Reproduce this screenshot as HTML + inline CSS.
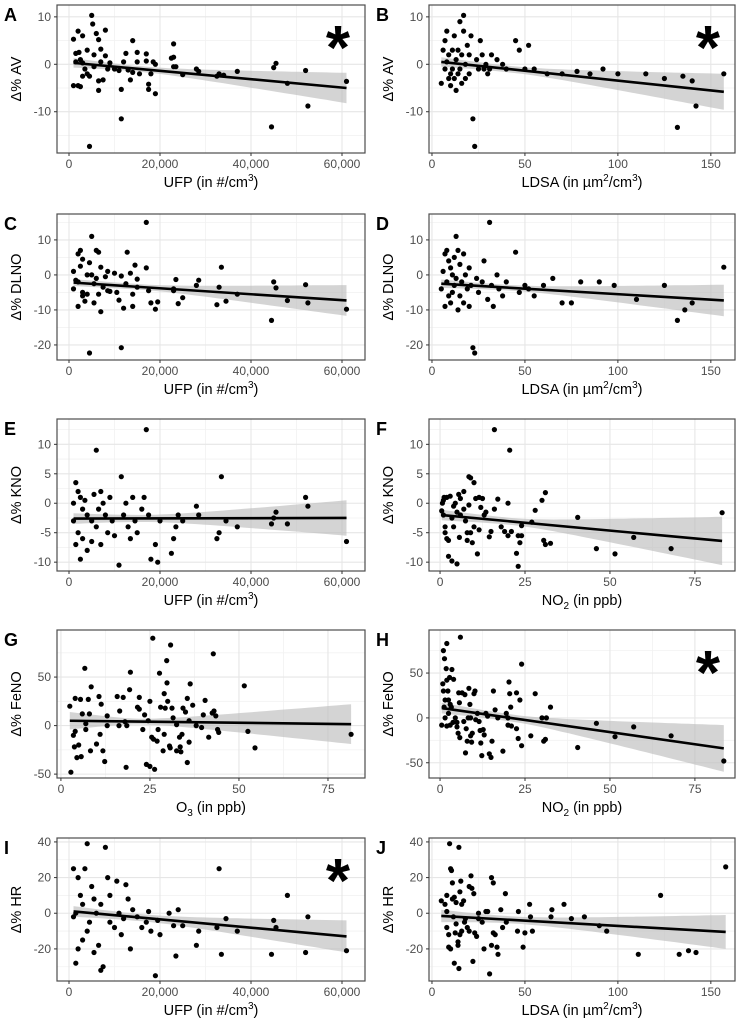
<!DOCTYPE html>
<html><head><meta charset="utf-8">
<style>
html,body{margin:0;padding:0;background:#fff;}
svg{display:block;font-family:"Liberation Sans",Arial,sans-serif;}
</style></head>
<body>
<svg id="fig" width="744" height="1036" viewBox="0 0 744 1036" xmlns="http://www.w3.org/2000/svg"></svg>
<script>
// ---- data arrays ----
const ufpTicks=[0,20000,40000,60000];
const ufpTickLabels=["0","20,000","40,000","60,000"];
const ldsaTicks=[0,50,100,150];
const ppbTicks=[0,25,50,75];

const ptsA=[[1000,5.3],[1500,2.3],[2000,7],[2200,2.5],[3000,6],[3000,0.3],[1000,-4.5],[2000,-4.5],[2500,-4.7],[4000,3],[4000,-2],[4500,-17.3],[4500,-2.5],[5000,10.3],[5200,8.5],[5500,2],[6000,6.5],[6500,5.2],[7000,3.2],[6500,-3.5],[6500,-5.5],[7000,0.5],[7500,-3.3],[8000,7.2],[8000,1.8],[8500,-1],[9000,0.3],[10000,-1],[11000,-1.3],[11500,-5.3],[11500,-11.5],[12000,0.5],[12500,2.3],[13000,-1.2],[13500,-3.3],[14000,5],[14000,-1.7],[15000,2.5],[15000,0.5],[15500,-2],[17000,2.2],[17000,0.7],[17500,-4.2],[17500,-5.3],[18000,-2],[18500,0.5],[19000,0],[19000,-6.2],[22500,1.3],[23000,4.3],[23000,1.5],[23000,-0.5],[23500,-0.5],[25000,-2.2],[28000,-1],[28500,-1.5],[32500,-2.5],[33000,-2],[34000,-2.3],[37000,-1.5],[44500,-13.2],[45000,-0.7],[45500,0.2],[48000,-4],[52000,-1.3],[52500,-8.8],[61000,-3.6],[1500,0.5],[3500,-1],[2500,1],[5500,-0.5],[3000,-2.5]];
const ptsB=[[5,-4],[6,3],[7,5],[7,-1],[8,7],[8,0.5],[9,2],[9,-3],[10,-2],[10,-4.5],[11,3],[11,-1],[12,6],[12,-3],[13,1],[13,-5.5],[14,3],[14,-2],[15,-1],[15,9],[16,2],[16,-4],[17,10.3],[17,7],[18,0],[18,-3],[19,4],[20,2],[20,-2],[21,6],[22,-11.5],[23,-17.3],[24,1],[25,-1],[26,5],[27,2],[28,-1],[29,0],[30,-2],[31,-1],[32,2],[35,1],[38,0],[40,-1],[45,5],[47,3],[50,-1],[52,4],[55,-1],[62,-2],[70,-2],[78,-1.5],[85,-2],[92,-1],[100,-2],[115,-2],[125,-3],[132,-13.3],[135,-2.5],[140,-3.5],[142,-8.8],[157,-2]];
const ptsC=[[1000,1],[1000,-4],[1500,-1.5],[2000,6],[2000,-9],[2500,7],[2500,2.5],[3000,4.5],[3000,-5],[3500,-7.5],[4000,0],[4000,-5.5],[4500,-22.3],[4500,3.5],[5000,11],[5000,0],[5500,-8],[6000,7],[6000,-1],[6500,6.5],[6500,-5.5],[7000,2.2],[7000,-10.5],[7500,-3.5],[8000,-0.5],[8500,1],[8500,-4.5],[9000,-4.7],[10000,0.5],[10500,-5],[11000,-7.2],[11500,-20.8],[11500,-0.3],[12000,-9.5],[12500,-2.5],[12800,6.5],[13500,0.5],[14000,-9],[14000,-5.5],[14500,2.8],[15000,-1.2],[15000,-3.5],[17000,15],[17000,2],[17500,-4.5],[18000,-8],[19000,-9.8],[19500,-7.7],[23000,-4],[23000,-4.5],[23500,-1.3],[24000,-8.2],[25000,-6.5],[28000,-3],[28500,-1.5],[32500,-8.5],[33000,-3.5],[33500,2.2],[34500,-7.5],[37000,-5.5],[44500,-13],[45000,-2],[45500,-3.7],[48000,-7.3],[52000,-2.8],[52500,-8],[61000,-9.8],[2000,-2],[3000,-6],[5500,-2.5]];
const ptsD=[[5,-4],[6,1],[7,6],[7,-9],[8,7],[8,-2],[9,4],[9,-6],[10,2],[10,-8],[11,0],[11,-5],[12,5],[12,-3],[13,11],[13,-1],[14,7],[14,-10],[15,3],[15,-6],[16,-2],[17,6],[17,-8],[18,0],[19,-4],[20,2],[20,-9],[21,-3],[22,-20.8],[23,-22.3],[24,-1],[25,-5],[27,-2],[28,4],[30,-7],[31,15],[32,-3],[33,-9],[35,0],[36,-4],[38,-6],[40,-2],[45,6.5],[47,-5],[50,-3],[52,-4],[55,-6],[60,-3],[65,-1],[70,-8],[75,-8],[80,-2],[90,-2],[98,-3],[110,-7],[125,-3],[132,-13],[136,-10],[140,-8],[157,2.2]];
const ptsE=[[1000,0],[1000,-3],[1500,3.5],[1500,-7],[2000,2],[2000,-5],[2500,1],[2500,-9.5],[3000,-1],[3000,-6],[3500,0.5],[4000,-2],[4000,-8],[5000,-3],[5000,-6.5],[5500,1.5],[6000,9],[6000,-4],[6500,-1],[7000,2],[7000,-7],[7500,0],[8000,-2],[8500,-5],[9000,1],[9500,-3],[10000,-5.5],[11000,-10.5],[11500,4.5],[12000,-2],[12500,0],[13000,-4],[13500,-6],[14000,1],[14500,-3],[15000,-5],[16000,-1],[16500,1],[17000,12.5],[17500,-2],[18000,-9.5],[19000,-7],[19500,-10],[20000,-3],[22500,-8.5],[23000,-6],[23500,-4],[24000,-2],[25000,-3],[28000,-0.5],[28500,-2],[32500,-6],[33000,-5],[33500,4.5],[34500,-3],[37000,-4],[44500,-3.5],[45000,-2.5],[45500,-1.5],[48000,-3.5],[52000,1],[52500,-0.5],[61000,-6.5]];
const ptsF=[[0.5,-1.3],[0.7,0],[1,0.5],[1,-2],[1.2,1],[1.5,-4],[1.5,-5],[2,-6],[2,1],[2.5,-6.3],[2.5,-9],[3,1.2],[3.5,-9.8],[3.5,-2.5],[4,-0.5],[4,-4],[4.5,0],[5,-10.3],[5,-1.5],[5.5,1.5],[5.7,-5.8],[6,0.8],[6,-2],[7,2],[7,-1],[7.5,-3],[8,-6.3],[8,-5],[8.5,4.5],[8.5,-0.3],[9,4.3],[9,-5],[9.5,-6.7],[10,3.5],[10,-4],[10.5,0.8],[11,-8.6],[11.5,1],[11.5,-4.5],[12,-0.7],[12.5,0.8],[13,-2],[13.5,-1.5],[14.5,-5.7],[15,-4.8],[16,12.5],[16,-1],[17,0.7],[18,-4],[19,-4.8],[20,0],[20,-5.5],[20.5,9],[21,-4.8],[22.5,-8.5],[23,-10.7],[23,-5.5],[23.5,-6.7],[24,-3.8],[24,-5.5],[27,-3.2],[28,-1.2],[30,0.5],[30.5,-6.3],[31,1.8],[31,-7],[32.5,-6.8],[40.5,-2.4],[46,-7.7],[51.5,-8.6],[57,-5.8],[68,-7.7],[83,-1.6]];
const ptsG=[[2.5,20],[2.8,-48],[3.5,-10],[3.8,-22],[4,28],[4,-6],[4.5,-33],[5,-20],[5.5,27],[5.7,-32],[6,12],[6.7,59],[7,-4],[7,2],[7.7,27],[8,12],[8.3,-26],[8.5,40],[10,-19],[10.7,30],[11,-9],[11.3,22],[11.8,-26],[12.3,-37],[13,10],[13,0],[15.8,30],[16.3,0],[16.5,15],[17.5,29],[18,4],[18.3,-43],[18.5,0],[19.3,37],[19.5,55],[21.5,19],[22,17],[22,29],[23,-4],[23.5,11],[24,-40],[24.5,5],[25,-42],[25,25],[25.5,-12],[25.8,90],[26,-14],[26.3,-45],[27,-16],[27.3,-4],[27.7,54],[28,19],[28.7,-26],[29,-9],[29,33],[29.3,18],[29.7,67],[29.8,44],[30,25],[30.5,-21],[30.7,-23],[30.8,83],[31.2,18],[31.5,8],[32.5,-26],[32.5,1],[33.3,-12],[33.5,-22],[33.7,-27],[34,-9],[34.3,18],[35,14],[35.5,28],[35.5,-38],[36,5],[36,-17],[36.3,43],[37,21],[38,0],[39.5,-2],[40,11],[40.5,26],[41.5,-12],[42.5,13],[42.8,74],[43,15],[43.5,10],[44,-4],[44.3,-7],[51.5,41],[52.5,-6],[54.5,-23],[81.5,-9]];
const ptsH=[[0.5,-8],[0.8,38],[1,75],[1,30],[1.2,12],[1.3,66],[1.5,0],[1.5,20],[1.8,55],[2,83],[2,42],[2,-9],[2.3,30],[2.5,20],[2.5,5],[2.8,45],[3,15],[3,-8],[3.3,12],[3.5,54],[3.8,-5],[4,43],[4.5,0],[5,-5],[5,-10],[5.3,-17],[5.5,28],[5.7,17],[5.8,-22],[6,90],[6.5,28],[7,-4],[7.3,26],[7.5,-39],[7.7,-12],[8,-26],[8.3,0],[8.5,33],[8.8,15],[9,-20],[9,0],[9.3,-27],[9.5,-17],[10,27],[10.3,30],[10.5,-2],[11,5],[11.5,-4],[11.8,-14],[12,-28],[12.3,-42],[12.7,-13],[13,-19],[13.5,5],[14,2],[14.5,-40],[15,-44],[15.3,-26],[15.7,30],[16.2,9],[17,0],[18.5,-37],[19.5,5],[20,0],[20,-8],[20.3,40],[20.5,27],[20.8,12],[21,-9],[22.5,28],[22.5,-12],[23,-23],[23.5,20],[24,60],[24,-31],[26.7,-20],[28,27],[30,0],[30.5,-26],[31,-24],[31.3,0],[32.5,12],[40.5,-33],[46,-6],[51.5,-21],[57,-10],[68,-20],[83.5,-48]];
const ptsI=[[1000,25],[1000,-2],[1500,0],[1500,-28],[2000,20],[2000,-20],[2500,10],[3000,5],[3000,-15],[3500,25],[4000,39],[4000,-10],[4500,-5],[5000,15],[5500,8],[5500,-22],[6000,0],[6500,-18],[7000,-32],[7000,5],[7500,-30],[8000,37],[8500,20],[9000,10],[9000,-5],[10000,-8],[10500,18],[11000,0],[11500,-12],[12000,-3],[12500,16],[13000,8],[13500,-20],[14000,2],[15000,-2],[16000,-8],[17000,-5],[17500,1],[18000,-10],[19000,-35],[19500,-4],[20000,-12],[22000,0],[23000,-7],[23500,-24],[24000,2],[25000,-7],[28000,-18],[28500,-10],[32500,-8],[33000,25],[33500,-23],[34500,-3],[37000,-10],[44500,-23],[45000,-4],[45500,-8],[48000,10],[52000,-22],[52500,-2],[61000,-21]];
const ptsJ=[[5,7],[7,5],[8,10],[8,1],[8,-8],[9,-19],[9,-12],[9.5,39],[10,25],[10.5,24],[10,-20],[11,17],[11,8],[11.5,-2],[12,9],[12,-28],[12.5,-11],[13,6],[13,-6],[14,-16],[14,-18],[14.5,37],[14.5,-31],[15,12],[15,-12],[15.5,18],[16,5],[16,-10],[17,7],[17.5,-5],[18,-3],[19,-8],[20,15],[20,-10],[21,21],[21.5,14],[22,-27],[22.5,11],[23,-11],[24,-13],[25,0],[25,-3],[27,-5],[28,-20],[29,1],[30,1],[31,-34],[32,20],[32,-18],[33,17],[33,-11],[34,-12],[35,-19],[35.5,-23],[37,2],[38,-8],[39.5,11],[40,-5],[46,-10],[46.5,1],[49,-19],[50,-11],[52.5,5],[53,-2],[54,-10],[64,-2],[64.5,2],[71,5],[75,-3],[82,-2],[90,-7],[94,-10],[111,-23],[123,10],[133,-23],[138,-21],[142,-22],[158,26]];

// fit: [x0, x1, y0, y1], band half-widths: [at start, narrowest, at end]
const fitA=[1000,61000,0.3,-5], bandA=[1.0,0.6,3.2];
const fitB=[5,157,0.5,-5.8], bandB=[1.0,0.7,3.8];
const fitC=[1000,61000,-2.2,-7.3], bandC=[1.0,0.8,4.4];
const fitD=[5,157,-2.5,-7.3], bandD=[1.2,0.8,4.5];
const fitE=[1000,61000,-2.6,-2.5], bandE=[0.9,0.6,3.0];
const fitF=[0.5,83,-2,-6.4], bandF=[0.9,0.6,4.1];
const fitG=[2.5,81.5,5,1.5], bandG=[9,3,20.5];
const fitH=[0.5,83.5,11,-34], bandH=[6,4,26];
const fitI=[1000,61000,1,-13], bandI=[3,2,9];
const fitJ=[5,158,-1.5,-10.5], bandJ=[3.5,2,9.5];

const NS="http://www.w3.org/2000/svg";
const svg=document.getElementById('fig');
function mk(tag,attrs,parent){const e=document.createElementNS(NS,tag);for(const k in attrs)e.setAttribute(k,attrs[k]);(parent||svg).appendChild(e);return e;}

const panels=[
 {id:'A',col:0,top:5,h:148,xd:[-2637,65055],yd:[-18.7,12.5],xt:ufpTicks,xl:ufpTickLabels,yt:[-10,0,10],ylab:'Δ% AV',xlab:'ufp',pts:ptsA,fit:fitA,band:bandA,star:true},
 {id:'B',col:1,top:5,h:148,xd:[-1.6,163],yd:[-18.7,12.5],xt:ldsaTicks,xl:null,yt:[-10,0,10],ylab:'Δ% AV',xlab:'ldsa',pts:ptsB,fit:fitB,band:bandB,star:true},
 {id:'C',col:0,top:214,h:146,xd:[-2637,65055],yd:[-24.3,17.4],xt:ufpTicks,xl:ufpTickLabels,yt:[-20,-10,0,10],ylab:'Δ% DLNO',xlab:'ufp',pts:ptsC,fit:fitC,band:bandC},
 {id:'D',col:1,top:214,h:146,xd:[-1.6,163],yd:[-24.3,17.4],xt:ldsaTicks,xl:null,yt:[-20,-10,0,10],ylab:'Δ% DLNO',xlab:'ldsa',pts:ptsD,fit:fitD,band:bandD},
 {id:'E',col:0,top:419,h:152,xd:[-2637,65055],yd:[-11.5,14.3],xt:ufpTicks,xl:ufpTickLabels,yt:[-10,-5,0,5,10],ylab:'Δ% KNO',xlab:'ufp',pts:ptsE,fit:fitE,band:bandE},
 {id:'F',col:1,top:419,h:152,xd:[-3.25,86.8],yd:[-11.5,14.3],xt:ppbTicks,xl:null,yt:[-10,-5,0,5,10],ylab:'Δ% KNO',xlab:'no2',pts:ptsF,fit:fitF,band:bandF},
 {id:'G',col:0,top:630,h:148,xd:[-1.1,85.4],yd:[-54,98.5],xt:ppbTicks,xl:null,yt:[-50,0,50],ylab:'Δ% FeNO',xlab:'o3',pts:ptsG,fit:fitG,band:bandG},
 {id:'H',col:1,top:630,h:148,xd:[-3.25,86.8],yd:[-67,98],xt:ppbTicks,xl:null,yt:[-50,0,50],ylab:'Δ% FeNO',xlab:'no2',pts:ptsH,fit:fitH,band:bandH,star:true},
 {id:'I',col:0,top:838,h:143,xd:[-2637,65055],yd:[-38,42.2],xt:ufpTicks,xl:ufpTickLabels,yt:[-20,0,20,40],ylab:'Δ% HR',xlab:'ufp',pts:ptsI,fit:fitI,band:bandI,star:true},
 {id:'J',col:1,top:838,h:143,xd:[-1.6,163],yd:[-38,42.2],xt:ldsaTicks,xl:null,yt:[-20,0,20,40],ylab:'Δ% HR',xlab:'ldsa',pts:ptsJ,fit:fitJ,band:bandJ}
];

panels.forEach(p=>{
  const L=p.col===0?57:429, R=p.col===0?365:735, T=p.top, B=p.top+p.h;
  const sx=v=>L+(v-p.xd[0])/(p.xd[1]-p.xd[0])*(R-L);
  const sy=v=>B-(v-p.yd[0])/(p.yd[1]-p.yd[0])*(B-T);
  const g=mk('g',{});
  
  
  mk('rect',{x:L,y:T,width:R-L,height:B-T,fill:'#fff'},g);
  // minor grids
  for(let i=0;i<p.xt.length;i++){
    const m=i<p.xt.length-1?(p.xt[i]+p.xt[i+1])/2:p.xt[i]+(p.xt[1]-p.xt[0])/2;
    if(m>p.xd[0]&&m<p.xd[1]) mk('line',{x1:sx(m),x2:sx(m),y1:T,y2:B,stroke:'#f2f2f2','stroke-width':0.8},g);
  }
  const ys=[...p.yt]; const dy=ys[1]-ys[0];
  for(let v=ys[0]-dy/2; v<p.yd[1]; v+=dy){ if(v>p.yd[0]) mk('line',{x1:L,x2:R,y1:sy(v),y2:sy(v),stroke:'#f2f2f2','stroke-width':0.8},g); }
  // major grids
  p.xt.forEach(v=>mk('line',{x1:sx(v),x2:sx(v),y1:T,y2:B,stroke:'#e6e6e6','stroke-width':1.1},g));
  p.yt.forEach(v=>mk('line',{x1:L,x2:R,y1:sy(v),y2:sy(v),stroke:'#e6e6e6','stroke-width':1.1},g));
  // band
  const f=p.fit, bw=p.band;
  const xm=f[0]+(f[1]-f[0])*0.25;
  const hw=x=>{const t=x<xm?(x-xm)/(f[0]-xm):(x-xm)/(f[1]-xm);const e=x<xm?bw[0]:bw[2];return Math.sqrt(bw[1]*bw[1]+(e*e-bw[1]*bw[1])*t*t);};
  const fy=x=>f[2]+(f[3]-f[2])*(x-f[0])/(f[1]-f[0]);
  const up=[],dn=[];
  for(let i=0;i<=40;i++){const x=f[0]+(f[1]-f[0])*i/40;up.push(sx(x).toFixed(1)+','+sy(fy(x)+hw(x)).toFixed(1));dn.unshift(sx(x).toFixed(1)+','+sy(fy(x)-hw(x)).toFixed(1));}
  const band=mk('polygon',{points:up.concat(dn).join(' '),fill:'#bdbdbd','fill-opacity':0.65},g);
  
  
  // points
  p.pts.forEach(d=>{
    const c=mk('circle',{cx:sx(d[0]).toFixed(1),cy:sy(d[1]).toFixed(1),r:2.6,fill:'#000'},g);
    
    
  });
  const ln=mk('line',{x1:sx(f[0]),y1:sy(f[2]),x2:sx(f[1]),y2:sy(f[3]),stroke:'#000','stroke-width':2.6},g);
  
  
  mk('rect',{x:L,y:T,width:R-L,height:B-T,fill:'none',stroke:'#4d4d4d','stroke-width':1.2},g);
  // ticks
  p.xt.forEach((v,i)=>{
    mk('line',{x1:sx(v),x2:sx(v),y1:B,y2:B+3,stroke:'#333','stroke-width':1},g);
    const t=mk('text',{x:sx(v),y:B+15,'text-anchor':'middle','font-size':12,fill:'#4d4d4d'},g);
    t.textContent=p.xl?p.xl[i]:String(v);
    
    
  });
  p.yt.forEach(v=>{
    mk('line',{x1:L-3,x2:L,y1:sy(v),y2:sy(v),stroke:'#333','stroke-width':1},g);
    const t=mk('text',{x:L-6,y:sy(v)+4,'text-anchor':'end','font-size':12,fill:'#4d4d4d'},g);
    t.textContent=String(v);
    
    
  });
  // y title
  const yx=p.col===0?16:388, ymid=(T+B)/2;
  const yt=mk('text',{x:yx,y:ymid,'text-anchor':'middle','font-size':14.5,fill:'#000',transform:`rotate(-90 ${yx} ${ymid})`,dy:5},g);
  yt.textContent=p.ylab;
  
  
  // x title
  const xt=mk('text',{x:(L+R)/2,y:B+34,'text-anchor':'middle','font-size':14.5,fill:'#000'},g);
  
  
  if(p.xlab==='ufp') xt.innerHTML='UFP (in #/cm<tspan dy="-6" font-size="10">3</tspan><tspan dy="6">)</tspan>';
  else if(p.xlab==='ldsa') xt.innerHTML='LDSA (in µm<tspan dy="-6" font-size="10">2</tspan><tspan dy="6">/cm</tspan><tspan dy="-6" font-size="10">3</tspan><tspan dy="6">)</tspan>';
  else if(p.xlab==='no2') xt.innerHTML='NO<tspan dy="4" font-size="10">2</tspan><tspan dy="-4"> (in ppb)</tspan>';
  else xt.innerHTML='O<tspan dy="4" font-size="10">3</tspan><tspan dy="-4"> (in ppb)</tspan>';
  // panel letter
  const lt=mk('text',{x:p.col===0?4:376,y:T+16,'font-size':18,'font-weight':'bold',fill:'#000'},g);
  lt.textContent=p.id;
  
  
  if(p.star){
    const s=mk('text',{x:R-27,y:T+64,'text-anchor':'middle','font-size':62,'font-weight':'bold',fill:'#000'},g);
    s.textContent='*';
    
    
  }
});
</script>
</body></html>
